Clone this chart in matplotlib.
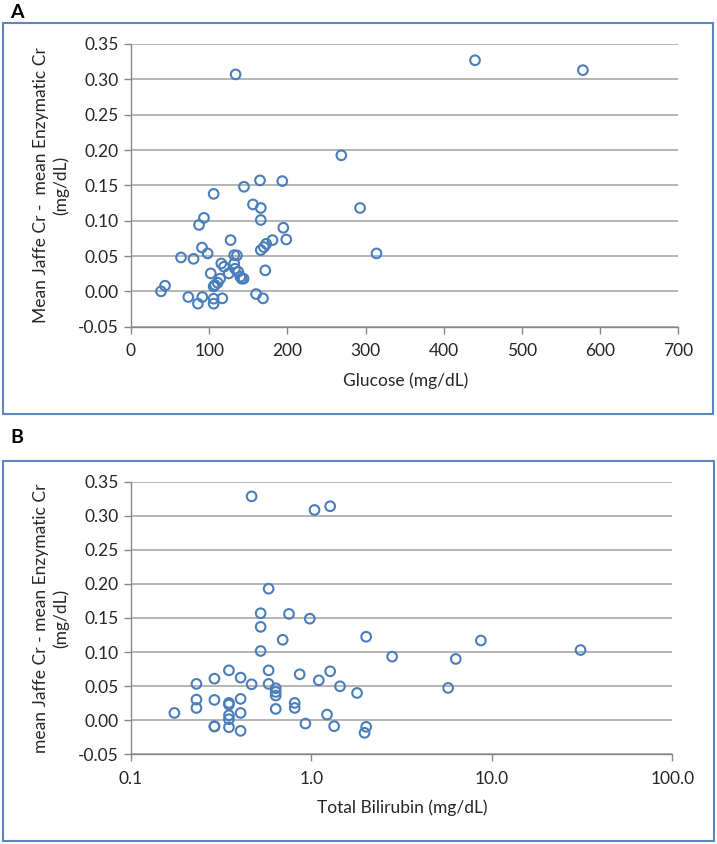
import matplotlib
matplotlib.use("Agg")
import matplotlib.pyplot as plt
from matplotlib.patches import Rectangle
from matplotlib.ticker import FixedLocator, FormatStrFormatter, NullLocator

plt.rcParams['font.family'] = ['Lato', 'DejaVu Sans']
plt.rcParams['axes.unicode_minus'] = False

# Panel A: glucose vs difference
glucose = [133.8, 440, 578, 269, 165, 193.5, 144.5, 105.7, 156, 166, 293, 166, 93.3, 87,
           194.8, 127.4, 181, 198.6, 173, 170, 166, 90.8, 98, 64, 80, 314, 132, 135.5,
           115.5, 119, 132, 133, 137.2, 139.8, 141.5, 144, 171.7, 102, 125, 114, 110.8,
           107.4, 105.7, 43.5, 38.4, 73.3, 91.2, 85.6, 105.7, 105.7, 116.8, 160, 168.8]
diff_a = [0.307, 0.327, 0.313, 0.1925, 0.157, 0.156, 0.148, 0.138, 0.123, 0.118, 0.118,
          0.101, 0.104, 0.094, 0.090, 0.0725, 0.0725, 0.0734, 0.0673, 0.0626, 0.0584,
          0.062, 0.0537, 0.048, 0.046, 0.0537, 0.0513, 0.0508, 0.0395, 0.0349, 0.0395,
          0.032, 0.0278, 0.0207, 0.018, 0.018, 0.0297, 0.0254, 0.0254, 0.018, 0.0122,
          0.009, 0.007, 0.008, 0.0, -0.008, -0.008, -0.0174, -0.0104, -0.0174, -0.0099,
          -0.0038, -0.0099]

# Panel B: total bilirubin vs difference
bilirubin = [0.466, 1.04, 1.27, 0.579, 0.523, 0.751, 0.979, 0.523, 0.693, 0.523, 0.349,
             0.579, 0.29, 0.405, 0.861, 1.27, 1.099, 0.2305, 0.466, 0.579, 1.44, 0.634,
             0.634, 0.634, 1.79, 0.2305, 0.29, 0.405, 0.349, 0.349, 0.808, 0.808, 0.2305,
             0.634, 0.174, 0.405, 0.349, 0.349, 1.22, 0.29, 0.29, 0.349, 0.405, 0.926,
             1.336, 2.01, 1.97, 2.01, 2.80, 8.69, 6.31, 5.72, 31.0]
diff_b = [0.3285, 0.3085, 0.314, 0.193, 0.157, 0.156, 0.149, 0.137, 0.118, 0.1016, 0.0732,
          0.0732, 0.061, 0.0625, 0.0674, 0.0718, 0.0586, 0.0533, 0.0527, 0.0533, 0.0498,
          0.0469, 0.0415, 0.0362, 0.040, 0.0303, 0.0298, 0.0313, 0.0254, 0.023, 0.0254,
          0.018, 0.018, 0.0166, 0.0107, 0.0107, 0.0073, 0.0015, 0.0083, -0.0088, -0.0093,
          -0.0103, -0.0156, -0.0049, -0.0088, -0.0097, -0.0185, 0.1225, 0.0933, 0.117,
          0.0899, 0.0474, 0.103]

y_ticks = [-0.05, 0.0, 0.05, 0.10, 0.15, 0.20, 0.25, 0.30, 0.35]
a_xticks = [0, 100, 200, 300, 400, 500, 600, 700]
b_xticks = [0.1, 1.0, 10.0, 100.0]

W, H = 717, 844
fig = plt.figure(figsize=(W / 100, H / 100), dpi=100)

def fx(px):
    return px / W

def fy(py):
    return 1 - py / H

MARK = '#4A7EBB'
GRID = '#A0A0A0'
AXC = '#888888'
BOX = '#5B86C0'
TXT = '#262626'
FS = 12.5

def style(ax):
    for s in ['top', 'right']:
        ax.spines[s].set_visible(False)
    for s in ['left', 'bottom']:
        ax.spines[s].set_color(AXC)
        ax.spines[s].set_linewidth(1.0)
    ax.set_yticks(y_ticks)
    ax.set_ylim(-0.05, 0.35)
    ax.yaxis.set_major_formatter(FormatStrFormatter('%.2f'))
    ax.grid(axis='y', color=GRID, linewidth=1.1)
    ax.set_axisbelow(True)
    ax.tick_params(axis='both', direction='out', length=5, width=1.0, color=AXC,
                   labelsize=FS, labelcolor=TXT)
    ax.tick_params(axis='y', pad=4)
    ax.tick_params(axis='x', pad=7)

# Panel A
axA = fig.add_axes([fx(131), fy(326.7), fx(678.3 - 131), (326.7 - 44) / H])
axA.scatter(glucose, diff_a, s=48, facecolors='none', edgecolors=MARK, linewidths=1.5,
            zorder=3, clip_on=False)
axA.set_xlim(0, 700)
axA.set_xticks(a_xticks)
style(axA)

# Panel B
axB = fig.add_axes([fx(131), fy(754.3), fx(672.3 - 131), (754.3 - 481.7) / H])
axB.scatter(bilirubin, diff_b, s=48, facecolors='none', edgecolors=MARK, linewidths=1.5,
            zorder=3, clip_on=False)
axB.set_xscale('log')
axB.set_xlim(0.1, 100)
axB.xaxis.set_major_locator(FixedLocator(b_xticks))
axB.xaxis.set_minor_locator(NullLocator())
axB.xaxis.set_major_formatter(FormatStrFormatter('%.1f'))
style(axB)

# axis labels
fig.text(fx(406), fy(381), 'Glucose (mg/dL)', ha='center', va='center', fontsize=FS, color=TXT)
fig.text(fx(402), fy(808), 'Total Bilirubin (mg/dL)', ha='center', va='center', fontsize=FS, color=TXT)
fig.text(fx(51), fy(185.5), 'Mean Jaffe Cr -  mean Enzymatic Cr\n(mg/dL)', rotation=90,
         ha='center', va='center', multialignment='center', fontsize=FS, color=TXT,
         linespacing=1.25)
fig.text(fx(51), fy(618), 'mean Jaffe Cr - mean Enzymatic Cr\n(mg/dL)', rotation=90,
         ha='center', va='center', multialignment='center', fontsize=FS, color=TXT,
         linespacing=1.25)

# panel frames
fig.patches.append(Rectangle((fx(3), fy(414)), fx(713 - 3), (414 - 23) / H,
                             transform=fig.transFigure, fill=False, edgecolor=BOX,
                             linewidth=1.5, zorder=0))
fig.patches.append(Rectangle((fx(3), fy(841)), fx(714 - 3), (841 - 461) / H,
                             transform=fig.transFigure, fill=False, edgecolor=BOX,
                             linewidth=1.5, zorder=0))

fig.text(fx(10), fy(12), 'A', ha='left', va='center', fontsize=14, fontweight='bold', color='black')
fig.text(fx(10), fy(437), 'B', ha='left', va='center', fontsize=14, fontweight='bold', color='black')

fig.savefig('out.png', dpi=100)
